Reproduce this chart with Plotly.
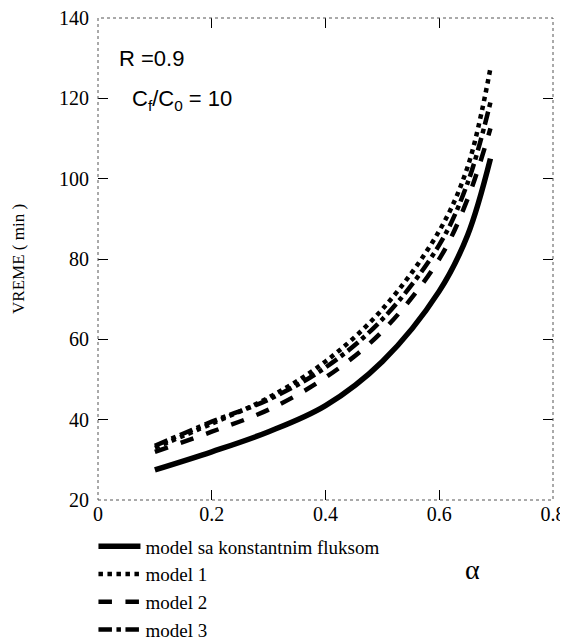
import plotly.graph_objects as go

alpha = [0.1, 0.2, 0.3, 0.4, 0.5, 0.6, 0.65, 0.69]
const_flux = [27.5, 32.0, 37.0, 43.5, 54.5, 72.0, 86.0, 105.0]
model1 = [33.0, 39.0, 45.5, 54.5, 67.5, 87.0, 103.0, 127.5]
model2 = [32.0, 37.0, 42.5, 50.5, 62.0, 80.0, 95.0, 112.5]
model3 = [33.5, 39.5, 45.0, 53.0, 65.0, 83.5, 99.0, 119.0]

names = ["model sa konstantnim fluksom", "model 1", "model 2", "model 3"]
series = [const_flux, model1, model2, model3]
styles = [dict(dash="solid", width=5.5), dict(dash="dot", width=4.5),
          dict(dash="dash", width=4.5), dict(dash="dashdot", width=4.5)]

fig = go.Figure()
for n, s, st in zip(names, series, styles):
    fig.add_trace(go.Scatter(x=alpha, y=s, mode="lines", name=n,
                             line=dict(color="black", shape="spline", **st)))

serif = "Liberation Serif, Times New Roman, serif"
sans = "Liberation Sans, Arial, sans-serif"
fig.update_layout(
    width=560, height=633,
    margin=dict(l=90, r=15, t=10, b=141, autoexpand=False),
    paper_bgcolor="white", plot_bgcolor="white",
    font=dict(family=serif, color="black", size=20),
    showlegend=True,
    legend=dict(x=-0.01, y=-0.057, xanchor="left", yanchor="top",
                font=dict(family=serif, size=19), tracegroupgap=0,
                itemwidth=42, bgcolor="rgba(0,0,0,0)"),
    xaxis=dict(range=[0, 0.8], tickvals=[0, 0.2, 0.4, 0.6, 0.8],
               ticktext=["0", "0.2", "0.4", "0.6", "0.8"],
               ticks="inside", ticklen=10, tickcolor="black", showgrid=False,
               zeroline=False, showline=False, mirror="ticks", automargin=False,
               ticklabeloverflow="allow",
               tickfont=dict(family=serif, size=20)),
    yaxis=dict(range=[20, 140], tickvals=[20, 40, 60, 80, 100, 120, 140],
               ticks="inside", ticklen=10, tickcolor="black", showgrid=False,
               zeroline=False, showline=False, mirror="ticks", automargin=False,
               ticklabeloverflow="allow", ticklabelstandoff=8,
               tickfont=dict(family=serif, size=20)),
    shapes=[dict(type="rect", xref="paper", yref="paper", x0=0, y0=0, x1=1, y1=1,
                 line=dict(color="#555", width=1, dash="dot"))],
    annotations=[
        dict(text="VREME ( min )", x=-0.176, y=0.5, xref="paper", yref="paper",
             xanchor="center", yanchor="middle", textangle=-90, showarrow=False,
             font=dict(family=serif, size=17)),
        dict(text="R =0.9", x=0.042, y=0.917, xref="paper", yref="paper",
             xanchor="left", yanchor="middle", showarrow=False,
             font=dict(family=sans, size=22)),
        dict(text="C<sub>f</sub>/C<sub>0</sub> = 10", x=0.07, y=0.83, xref="paper", yref="paper",
             xanchor="left", yanchor="middle", showarrow=False,
             font=dict(family=sans, size=22)),
        dict(text="α", x=0.822, y=-0.145, xref="paper", yref="paper",
             xanchor="center", yanchor="middle", showarrow=False,
             font=dict(family=serif, size=28)),
    ],
)
fig.write_html("out.html")
